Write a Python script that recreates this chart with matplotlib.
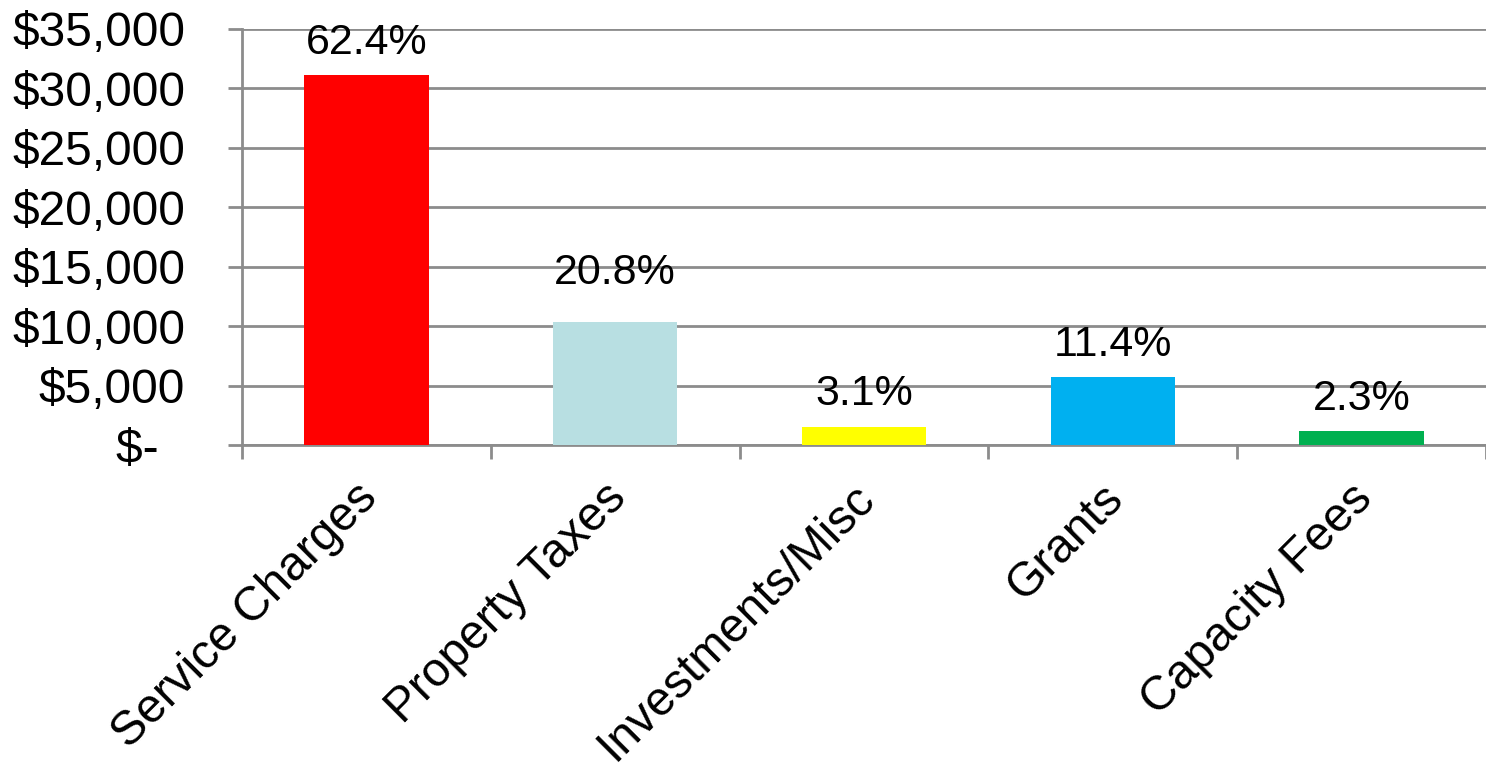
import matplotlib.pyplot as plt
from matplotlib.transforms import ScaledTranslation
import numpy as np

# Revenue sources (thousands of $) and share of total
categorias = ["Service Charges", "Property Taxes", "Investments/Misc", "Grants", "Capacity Fees"]
valores = [31100, 10370, 1550, 5690, 1150]
percentuais = ["62.4%", "20.8%", "3.1%", "11.4%", "2.3%"]
cores = ["#FF0000", "#B8DFE2", "#FFFF00", "#00B0F0", "#00B050"]
ticks_y = [0, 5000, 10000, 15000, 20000, 25000, 30000, 35000]

plt.rcParams['font.family'] = ['Liberation Sans', 'DejaVu Sans']

fig = plt.figure(figsize=(14.86, 7.67), dpi=100)
ax = fig.add_axes([0.1629, 0.4198, 0.8371, 0.5424])

x = np.arange(len(categorias))
barras = ax.bar(x, valores, width=0.5, color=cores, zorder=3)

ax.set_xlim(-0.5, len(categorias) - 0.5)
ax.set_ylim(0, 35000)

def rotulo_y(v):
    if v == 0:
        return "$-  "
    return "${:,.0f}".format(v)

ax.set_yticks(ticks_y)
ax.set_yticklabels([rotulo_y(v) for v in ticks_y], fontsize=34.5)
ax.yaxis.grid(True, color="#8C8C8C", linewidth=2, zorder=0)
ax.tick_params(axis='y', length=10, width=2, color="#8C8C8C", pad=31)

ax.set_xticks(x)
ax.set_xticklabels(categorias, fontsize=34.5, rotation=45, ha='right',
                   rotation_mode='anchor')
ax.set_xticks(np.arange(len(categorias) + 1) - 0.5, minor=True)
ax.tick_params(axis='x', which='major', length=0, pad=24)
ax.tick_params(axis='x', which='minor', length=10, width=2, color="#8C8C8C")

# nudge rotated labels a bit to the left, like the original
desloc = ScaledTranslation(-0.12, 0.03, fig.dpi_scale_trans)
for rot in ax.get_xticklabels():
    rot.set_transform(rot.get_transform() + desloc)

for lado in ["top", "right"]:
    ax.spines[lado].set_visible(False)
for lado in ["left", "bottom"]:
    ax.spines[lado].set_color("#8C8C8C")
    ax.spines[lado].set_linewidth(2)

for i, (b, p) in enumerate(zip(barras, percentuais)):
    extra = 12 if i == 1 else 0
    ax.annotate(p, (b.get_x() + b.get_width() / 2, b.get_height()),
                xytext=(0, 9 + extra), textcoords='offset points',
                ha='center', va='bottom', fontsize=31)

fig.savefig("out.png", dpi=100)
